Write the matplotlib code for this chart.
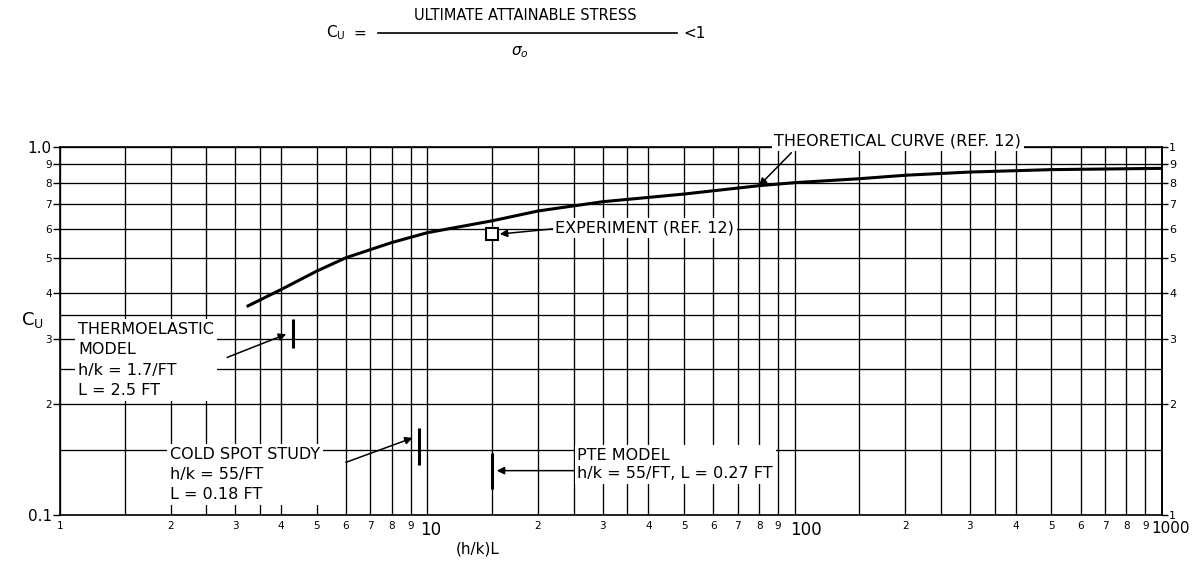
import matplotlib
matplotlib.use('Agg')
import matplotlib.pyplot as plt
from matplotlib.lines import Line2D
from matplotlib.ticker import NullFormatter
from matplotlib.transforms import ScaledTranslation

# ---------------- data ----------------
theory_x = [3.25, 4, 5, 6, 8, 10, 15, 20, 30, 50, 80, 100, 150, 200, 300, 500, 1000]
theory_y = [0.37, 0.41, 0.46, 0.50, 0.55, 0.585, 0.63, 0.67, 0.71, 0.745, 0.785,
            0.80, 0.82, 0.838, 0.855, 0.868, 0.875]

exp_x = [15.0]
exp_y = [0.58]

thermo_x = [4.3]
thermo_y = [0.31]
thermo_lo = [0.285]
thermo_hi = [0.34]

cold_x = [9.5]
cold_y = [0.162]
cold_lo = [0.137]
cold_hi = [0.172]

pte_x = [15.0]
pte_y = [0.132]
pte_lo = [0.118]
pte_hi = [0.147]

x_major = [1, 2, 3, 4, 5, 6, 7, 8, 9,
           10, 20, 30, 40, 50, 60, 70, 80, 90,
           100, 200, 300, 400, 500, 600, 700, 800, 900, 1000]
x_labels = ['1', '2', '3', '4', '5', '6', '7', '8', '9',
            '10', '2', '3', '4', '5', '6', '7', '8', '9',
            '100', '2', '3', '4', '5', '6', '7', '8', '9', '1000']
x_big = {'10': (3, 12), '100': (11, 12), '1000': (9, 11)}   # label -> (shift px, size)
x_minor = [1.5, 2.5, 3.5, 15, 25, 35, 150, 250, 350]

y_major = [0.1, 0.2, 0.3, 0.4, 0.5, 0.6, 0.7, 0.8, 0.9, 1.0]
y_left_labels = ['0.1', '2', '3', '4', '5', '6', '7', '8', '9', '1.0']
y_right_labels = ['1', '2', '3', '4', '5', '6', '7', '8', '9', '1']
y_big = ['0.1', '1.0']
y_minor = [0.15, 0.25, 0.35]

# ---------------- figure ----------------
W, H = 1193, 567
fig = plt.figure(figsize=(W / 100, H / 100), dpi=100)
L, R, T, B = 60, 1162, 147, 515
ax = fig.add_axes([L / W, 1 - B / H, (R - L) / W, (B - T) / H])
ax.set_xscale('log')
ax.set_yscale('log')
ax.set_xlim(1, 1000)
ax.set_ylim(0.1, 1.0)

ax.set_xticks(x_major)
ax.set_xticklabels(x_labels)
ax.set_xticks(x_minor, minor=True)
ax.xaxis.set_minor_formatter(NullFormatter())
ax.set_yticks(y_major)
ax.set_yticklabels(y_left_labels)
ax.set_yticks(y_minor, minor=True)
ax.yaxis.set_minor_formatter(NullFormatter())

ax.tick_params(axis='x', which='both', length=0, pad=4, labelsize=7.5)
ax.tick_params(axis='y', which='major', length=5, width=1, direction='out',
               labelsize=7.5, pad=1)
ax.tick_params(axis='y', which='minor', length=0)
for lab in ax.get_xticklabels():
    t = lab.get_text()
    if t in x_big:
        dx, fs = x_big[t]
        lab.set_fontsize(fs)
        lab.set_transform(lab.get_transform() +
                          ScaledTranslation(dx / 100, 0, fig.dpi_scale_trans))
for lab in ax.get_yticklabels():
    if lab.get_text() in y_big:
        lab.set_fontsize(11)

ax.set_axisbelow(True)
ax.grid(which='both', color='black', linewidth=0.95)
for s in ax.spines.values():
    s.set_linewidth(1.2)
    s.set_color('black')

# right axis labels
tw = ax.twinx()
tw.set_yscale('log')
tw.set_ylim(0.1, 1.0)
tw.set_yticks(y_major)
tw.set_yticklabels(y_right_labels)
tw.set_yticks([], minor=True)
tw.tick_params(axis='y', which='major', length=4, width=1, direction='out',
               labelsize=8, pad=1)
for k in ['top', 'left', 'bottom']:
    tw.spines[k].set_visible(False)
tw.spines['right'].set_linewidth(1.2)

# ---------------- curves & points ----------------
ax.plot(theory_x, theory_y, color='black', linewidth=2.2, zorder=4)
ax.plot(exp_x, exp_y, marker='s', markersize=9, markerfacecolor='white',
        markeredgecolor='black', markeredgewidth=1.5, linestyle='none', zorder=6)

for xs, ys, lo, hi in [(thermo_x, thermo_y, thermo_lo, thermo_hi),
                       (cold_x, cold_y, cold_lo, cold_hi),
                       (pte_x, pte_y, pte_lo, pte_hi)]:
    ax.errorbar(xs, ys, yerr=[[ys[0] - lo[0]], [hi[0] - ys[0]]], fmt='none',
                ecolor='black', elinewidth=2.2, capsize=0, zorder=6)

arrow_kw = dict(arrowstyle='-|>', color='black', lw=1.1, mutation_scale=11,
                shrinkA=0, shrinkB=0)
txt_kw = dict(fontsize=11.5, color='black', family='DejaVu Sans',
              bbox=dict(facecolor='white', edgecolor='none', pad=2), zorder=7)

# experiment
ax.annotate('', xy=(exp_x[0] * 1.05, exp_y[0]), xytext=(22.3, 0.60),
            arrowprops=arrow_kw, zorder=5)
ax.text(22.3, 0.602, 'EXPERIMENT (REF. 12)', ha='left', va='center', **txt_kw)

# theoretical curve label
ax.annotate('', xy=(80, 0.785), xytext=(98, 0.965),
            arrowprops=arrow_kw, zorder=5)
ax.text(88, 1.041, 'THEORETICAL CURVE (REF. 12)', ha='left', va='center',
        clip_on=False, **txt_kw)

# thermoelastic
ax.annotate('', xy=(thermo_x[0] * 0.96, thermo_y[0]), xytext=(2.85, 0.268),
            arrowprops=arrow_kw, zorder=5)
ax.text(1.12, 0.264, 'THERMOELASTIC\nMODEL\nh/k = 1.7/FT\nL = 2.5 FT',
        ha='left', va='center', linespacing=1.45, **txt_kw)

# cold spot
ax.annotate('', xy=(cold_x[0] * 0.96, cold_y[0]), xytext=(6.0, 0.139),
            arrowprops=arrow_kw, zorder=5)
ax.text(1.99, 0.129, 'COLD SPOT STUDY\nh/k = 55/FT\nL = 0.18 FT',
        ha='left', va='center', linespacing=1.42, **txt_kw)

# PTE model
ax.annotate('', xy=(pte_x[0] * 1.03, pte_y[0]), xytext=(25.0, pte_y[0]),
            arrowprops=arrow_kw, zorder=5)
ax.text(25.6, 0.137, 'PTE MODEL\nh/k = 55/FT, L = 0.27 FT',
        ha='left', va='center', linespacing=1.3, **txt_kw)

# ---------------- labels ----------------
fig.text(32 / W, 1 - 320 / H, r'C$_\mathregular{U}$', fontsize=13,
         ha='center', va='center')
fig.text(478 / W, 1 - 549 / H, '(h/k)L', fontsize=11, ha='center', va='center')

# formula at top
fig.text(336 / W, 1 - 33 / H, r'C$_\mathregular{U}$', fontsize=11,
         ha='center', va='center')
fig.text(360 / W, 1 - 33 / H, '=', fontsize=11, ha='center', va='center')
fig.text(525 / W, 1 - 16 / H, 'ULTIMATE ATTAINABLE STRESS', fontsize=10.5,
         ha='center', va='center')
fig.add_artist(Line2D([378 / W, 677 / W], [1 - 33 / H, 1 - 33 / H],
                      color='black', linewidth=1.2))
fig.text(520 / W, 1 - 52 / H, r'$\sigma_o$', fontsize=11, ha='center', va='center')
fig.text(695 / W, 1 - 33 / H, '<1', fontsize=11, ha='center', va='center')

fig.savefig('out.png', dpi=100)
